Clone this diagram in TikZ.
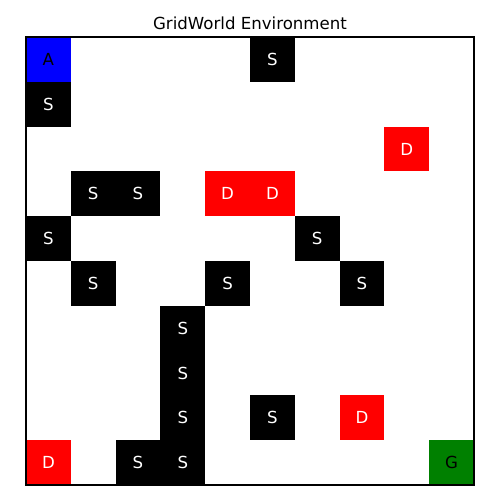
\documentclass[tikz,border=0pt]{standalone}
\usepackage{fontspec}
\setmainfont{DejaVu Sans}
\definecolor{goalgreen}{RGB}{0,128,0}
\tikzset{
  cell/.style={minimum size=0.896cm, inner sep=0, outer sep=0, font=\fontsize{9.45}{11}\selectfont},
  agentcell/.style={cell, fill=blue, text=black},
  wallcell/.style={cell, fill=black, text=white},
  dangercell/.style={cell, fill=red, text=white},
  goalcell/.style={cell, fill=goalgreen, text=black},
}
\begin{document}
\begin{tikzpicture}[x=0.896cm, y=-0.896cm]
\useasboundingbox (-0.5804,-0.8259) rectangle (10.5804,10.3348);
% special cells
\node[agentcell] (agent) at (0.5,0.5) {A};
\node[goalcell] (goal) at (9.5,9.5) {G};
% walls
\foreach \c/\r in {5/0, 0/1, 1/3, 2/3, 0/4, 6/4, 1/5, 4/5, 7/5, 3/6, 3/7, 3/8, 5/8, 2/9, 3/9}
 \node[wallcell] (s-\c-\r) at ({\c+0.5},{\r+0.5}) {S};
% dangers
\foreach \c/\r in {8/2, 4/3, 5/3, 7/8, 0/9}
 \node[dangercell] (d-\c-\r) at ({\c+0.5},{\r+0.5}) {D};
% frame and title
\draw[black, line width=0.63pt] (0,0) rectangle (10,10);
\node[anchor=base, inner sep=0, font=\fontsize{9.45}{11}\selectfont] (title) at (5,-0.16) {GridWorld Environment};
\end{tikzpicture}
\end{document}
